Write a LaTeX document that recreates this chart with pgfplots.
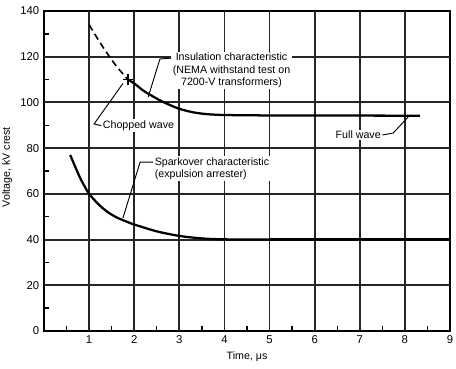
\documentclass[border=0pt]{standalone}
\usepackage{fontspec}
\setmainfont{Liberation Sans}
\usepackage{pgfplots}
\pgfplotsset{compat=1.18}
\begin{document}
\begin{tikzpicture}
\path[use as bounding box] (-33pt,-27.75pt) rectangle (309pt,248.25pt);
\begin{axis}[
  scale only axis,
  width=304.5pt, height=240pt,
  at={(0,0)}, anchor=south west,
  xmin=0, xmax=9, ymin=0, ymax=140,
  xtick={1,2,3,4,5,6,7,8,9},
  ytick={0,20,40,60,80,100,120,140},
  minor xtick={0.5,1.5,2.5,3.5,4.5,5.5,6.5,7.5,8.5},
  minor ytick={10,30,50,70,90,110,130},
  xtick pos=left, ytick pos=left,
  tick align=inside,
  every tick/.style={black, line width=1pt},
  major tick length=4pt, minor tick length=4pt,
  axis line style={black, line width=1.4pt},
  tick label style={font=\fontsize{8.5}{9.5}\selectfont},
  xticklabel={\pgfmathprintnumber[assume math mode=true]{\tick}},
  yticklabel={\pgfmathprintnumber[assume math mode=true]{\tick}},
  label style={font=\fontsize{8}{9.5}\selectfont},
  xlabel={Time, μs},
  ylabel={Voltage, kV crest},
  xlabel style={at={(axis description cs:0.5,-0.081)},anchor=center},
  ylabel style={at={(axis description cs:-0.091,0.512)},anchor=center},
  clip=false,
]
% grid
\pgfplotsinvokeforeach{1,2,3,4,5,6,7,8}{
  \draw[black!85, line width=1.4pt] (axis cs:#1,0) -- (axis cs:#1,140);
}
\pgfplotsinvokeforeach{20,40,60,80,100,120}{
  \draw[black!85, line width=1.4pt] (axis cs:0,#1) -- (axis cs:9,#1);
}
% Insulation characteristic, chopped wave part (dashed)
\addplot[black, line width=1.2pt, dash pattern=on 5pt off 3pt, smooth] coordinates {
 (1.0,134) (1.2,127.5) (1.4,121.5) (1.6,116) (1.86,110)
};
% Insulation characteristic, solid
\addplot[black, line width=1.7pt, smooth] coordinates {
 (1.86,110) (2.0,108.3) (2.2,105.2) (2.4,102.8) (2.6,100.6) (2.8,98.8)
 (3.0,97.2) (3.3,95.7) (3.6,94.9) (4.0,94.5) (5.0,94.3)
};
\addplot[black, line width=1.7pt] coordinates {(5.0,94.3) (8.33,94.2)};
% chopped wave cross
\addplot[black, only marks, mark=+, mark size=4pt, mark options={line width=1.1pt}] coordinates {(1.86,110)};
% Sparkover characteristic
\addplot[black, line width=1.7pt, smooth] coordinates {
 (0.58,77) (0.7,71.5) (0.8,67) (0.9,63.3) (1.0,60) (1.2,55.6) (1.4,52.2)
 (1.6,49.8) (1.8,48.1) (2.0,46.6) (2.5,43.6) (3.0,41.6) (3.5,40.5) (4.0,40.1) (5.0,40)
};
\addplot[black, line width=1.7pt] coordinates {(5.0,40) (9,40)};

% annotations
\begin{scope}[every node/.style={font=\fontsize{8}{9.4}\selectfont, fill=white, inner sep=1pt}]
\node[anchor=north west, align=center] at (axis cs:2.82,122.3)
  {Insulation characteristic\\(NEMA withstand test on\\7200-V transformers)};
\draw[black, line width=0.7pt] (axis cs:2.82,119.4) -- (axis cs:2.57,119) -- (axis cs:2.31,102.4);

\node[anchor=west] at (axis cs:1.27,89.8) {Chopped wave};
\draw[black, line width=0.7pt] (axis cs:1.27,89.8) -- (axis cs:1.11,90.6) -- (axis cs:1.75,108.3);

\node[anchor=east] at (axis cs:7.5,85.75) {Full wave};
\draw[black, line width=0.7pt] (axis cs:7.5,85.75) -- (axis cs:7.74,86.6) -- (axis cs:8.07,93.6);

\node[anchor=north west, align=left] at (axis cs:2.42,76.7)
  {Sparkover characteristic\\(expulsion arrester)};
\draw[black, line width=0.7pt] (axis cs:2.42,73.9) -- (axis cs:2.13,73.9) -- (axis cs:1.75,49.4);
\end{scope}
\end{axis}
\end{tikzpicture}
\end{document}
